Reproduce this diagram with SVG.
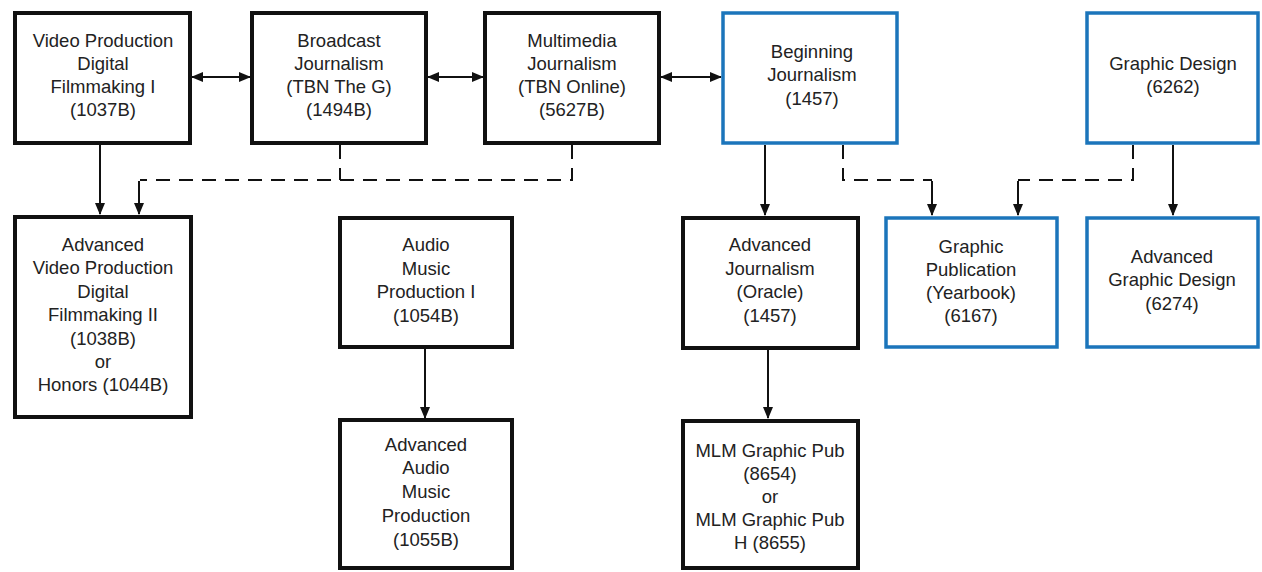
<svg xmlns="http://www.w3.org/2000/svg" width="1262" height="572" viewBox="0 0 1262 572">
<style>
.bk{fill:#fff;stroke:#111;stroke-width:4}
.bl{fill:#fff;stroke:#1b75bb;stroke-width:3.5}
text{font-family:"Liberation Sans",Arial,sans-serif;font-size:18.5px;fill:#222;text-anchor:middle}
.c{fill:none;stroke:#111;stroke-width:2}
.d{fill:none;stroke:#111;stroke-width:2;stroke-dasharray:14 9}
</style>
<defs>
<marker id="ah" markerWidth="12" markerHeight="10" refX="11" refY="5" orient="auto" markerUnits="userSpaceOnUse">
<path d="M0,0 L12,5 L0,10 z" fill="#111"/>
</marker>
<marker id="as" markerWidth="12" markerHeight="10" refX="1" refY="5" orient="auto" markerUnits="userSpaceOnUse">
<path d="M12,0 L0,5 L12,10 z" fill="#111"/>
</marker>
</defs>
<rect width="1262" height="572" fill="#fff"/>
<g id="connectors">
<line class="c" x1="192" y1="77" x2="250" y2="77" marker-start="url(#as)" marker-end="url(#ah)"/>
<line class="c" x1="428" y1="77" x2="483" y2="77" marker-start="url(#as)" marker-end="url(#ah)"/>
<line class="c" x1="661" y1="77" x2="721" y2="77" marker-start="url(#as)" marker-end="url(#ah)"/>
<line class="c" x1="100" y1="145" x2="100" y2="214" marker-end="url(#ah)"/>
<path class="d" d="M340,145 V180"/>
<path class="d" d="M572,145 V180 H140"/>
<line class="c" x1="139" y1="181" x2="139" y2="214" marker-end="url(#ah)"/>
<line class="c" x1="425" y1="349" x2="425" y2="418" marker-end="url(#ah)"/>
<line class="c" x1="765" y1="145" x2="765" y2="215" marker-end="url(#ah)"/>
<line class="c" x1="768" y1="350" x2="768" y2="418" marker-end="url(#ah)"/>
<path class="d" d="M843,145 V180 H932"/>
<line class="c" x1="932" y1="181" x2="932" y2="215" marker-end="url(#ah)"/>
<path class="d" d="M1133,145 V180 H1018"/>
<line class="c" x1="1018" y1="181" x2="1018" y2="215" marker-end="url(#ah)"/>
<line class="c" x1="1173" y1="145" x2="1173" y2="215" marker-end="url(#ah)"/>
</g>
<g id="n1"><rect class="bk" x="15" y="13" width="175" height="130"/>
<text x="103" y="47">Video Production</text><text x="103" y="70">Digital</text><text x="103" y="93">Filmmaking I</text><text x="103" y="116">(1037B)</text></g>
<g id="n2"><rect class="bk" x="252" y="13" width="174" height="130"/>
<text x="339" y="47">Broadcast</text><text x="339" y="70">Journalism</text><text x="339" y="93">(TBN The G)</text><text x="339" y="116">(1494B)</text></g>
<g id="n3"><rect class="bk" x="485" y="13" width="174" height="130"/>
<text x="572" y="47">Multimedia</text><text x="572" y="70">Journalism</text><text x="572" y="93">(TBN Online)</text><text x="572" y="116">(5627B)</text></g>
<g id="n4"><rect class="bl" x="723" y="13" width="174" height="130"/>
<text x="812" y="58">Beginning</text><text x="812" y="81">Journalism</text><text x="812" y="105">(1457)</text></g>
<g id="n5"><rect class="bl" x="1087" y="13" width="171" height="130"/>
<text x="1173" y="70">Graphic Design</text><text x="1173" y="93">(6262)</text></g>
<g id="n6"><rect class="bk" x="15" y="217" width="176" height="200"/>
<text x="103" y="251">Advanced</text><text x="103" y="274">Video Production</text><text x="103" y="298">Digital</text><text x="103" y="321">Filmmaking II</text><text x="103" y="345">(1038B)</text><text x="103" y="368">or</text><text x="103" y="391">Honors (1044B)</text></g>
<g id="n7"><rect class="bk" x="340" y="218" width="172" height="129"/>
<text x="426" y="251">Audio</text><text x="426" y="275">Music</text><text x="426" y="298">Production I</text><text x="426" y="322">(1054B)</text></g>
<g id="n8"><rect class="bk" x="340" y="420" width="172" height="148"/>
<text x="426" y="451">Advanced</text><text x="426" y="474">Audio</text><text x="426" y="498">Music</text><text x="426" y="522">Production</text><text x="426" y="546">(1055B)</text></g>
<g id="n9"><rect class="bk" x="683" y="218" width="175" height="130"/>
<text x="770" y="251">Advanced</text><text x="770" y="275">Journalism</text><text x="770" y="298">(Oracle)</text><text x="770" y="322">(1457)</text></g>
<g id="n10"><rect class="bk" x="683" y="421" width="175" height="147"/>
<text x="770" y="457">MLM Graphic Pub</text><text x="770" y="480">(8654)</text><text x="770" y="503">or</text><text x="770" y="526">MLM Graphic Pub</text><text x="770" y="549">H (8655)</text></g>
<g id="n11"><rect class="bl" x="886" y="218" width="171" height="129"/>
<text x="971" y="253">Graphic</text><text x="971" y="276">Publication</text><text x="971" y="299">(Yearbook)</text><text x="971" y="322">(6167)</text></g>
<g id="n12"><rect class="bl" x="1087" y="218" width="171" height="129"/>
<text x="1172" y="263">Advanced</text><text x="1172" y="286">Graphic Design</text><text x="1172" y="310">(6274)</text></g>
</svg>
